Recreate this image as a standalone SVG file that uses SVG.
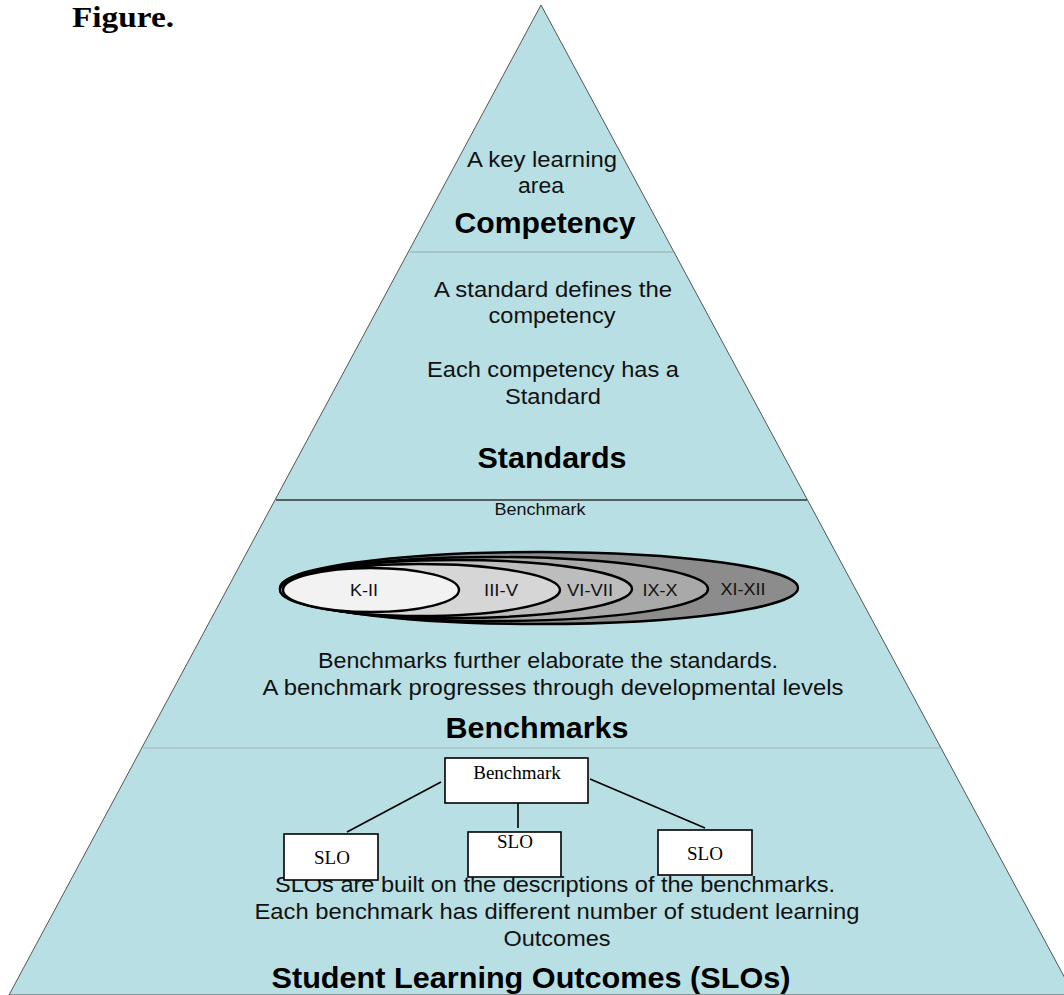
<svg xmlns="http://www.w3.org/2000/svg" width="1064" height="995" viewBox="0 0 1064 995">
<style>
.body{font-family:"Liberation Sans",Arial,sans-serif;font-size:22px;fill:#111;text-anchor:middle}
.head{font-family:"Liberation Sans",Arial,sans-serif;font-size:30px;font-weight:bold;fill:#000;text-anchor:middle}
.lvl{font-family:"Liberation Sans",Arial,sans-serif;font-size:17px;fill:#111;text-anchor:middle}
.box{fill:#fff;stroke:#000;stroke-width:1.6}
.boxt{font-family:"Liberation Serif","Times New Roman",serif;font-size:19px;fill:#000;text-anchor:middle}
.ell{stroke:#000;stroke-width:2.4}
.conn{stroke:#000;stroke-width:1.6;fill:none}
</style>
<rect width="1064" height="995" fill="#fff"/>
<text x="72" y="27" font-family="Liberation Serif,'Times New Roman',serif" font-size="29" font-weight="bold" fill="#000" textLength="102" lengthAdjust="spacingAndGlyphs">Figure.</text>
<g id="pyramid">
<polygon points="541,5 1074,995 9,995" fill="#b8dfe3" stroke="#555" stroke-width="1"/>
<line x1="410" y1="252" x2="673" y2="252" stroke="#8fa9ac" stroke-width="1.2"/>
<line x1="276" y1="500" x2="807" y2="500" stroke="#333" stroke-width="1.6"/>
<line x1="143" y1="748" x2="940" y2="748" stroke="#9db7ba" stroke-width="1.2"/>
</g>
<g id="competency">
<text class="body" x="542" y="167" textLength="150" lengthAdjust="spacingAndGlyphs">A key learning</text>
<text class="body" x="541" y="193" textLength="46" lengthAdjust="spacingAndGlyphs">area</text>
<text class="head" x="545" y="233" textLength="181" lengthAdjust="spacingAndGlyphs">Competency</text>
</g>
<g id="standards">
<text class="body" x="553" y="297" textLength="238" lengthAdjust="spacingAndGlyphs">A standard defines the</text>
<text class="body" x="552" y="323" textLength="127" lengthAdjust="spacingAndGlyphs">competency</text>
<text class="body" x="553" y="377" textLength="252" lengthAdjust="spacingAndGlyphs">Each competency has a</text>
<text class="body" x="553" y="404" textLength="96" lengthAdjust="spacingAndGlyphs">Standard</text>
<text class="head" x="552" y="468" textLength="149" lengthAdjust="spacingAndGlyphs">Standards</text>
</g>
<g id="benchmarks">
<text class="lvl" x="540" y="515" font-size="16" textLength="91" lengthAdjust="spacingAndGlyphs">Benchmark</text>
<ellipse class="ell" cx="539" cy="588" rx="259" ry="36" fill="#8c8c8c"/>
<ellipse class="ell" cx="494" cy="589" rx="214" ry="32" fill="#a9a9a9"/>
<ellipse class="ell" cx="456" cy="589" rx="176" ry="29" fill="#bdbdbd"/>
<ellipse class="ell" cx="420" cy="590" rx="140" ry="26" fill="#d6d6d6"/>
<ellipse class="ell" cx="371" cy="590" rx="88" ry="22" fill="#f2f2f2"/>
<text class="lvl" x="364" y="596" textLength="28" lengthAdjust="spacingAndGlyphs">K-II</text>
<text class="lvl" x="501" y="596" textLength="34" lengthAdjust="spacingAndGlyphs">III-V</text>
<text class="lvl" x="590" y="596" textLength="46" lengthAdjust="spacingAndGlyphs">VI-VII</text>
<text class="lvl" x="660" y="596" textLength="35" lengthAdjust="spacingAndGlyphs">IX-X</text>
<text class="lvl" x="743" y="595" textLength="45" lengthAdjust="spacingAndGlyphs">XI-XII</text>
<text class="body" x="548" y="668" textLength="460" lengthAdjust="spacingAndGlyphs">Benchmarks further elaborate the standards.</text>
<text class="body" x="553" y="695" textLength="581" lengthAdjust="spacingAndGlyphs">A benchmark progresses through developmental levels</text>
<text class="head" x="537" y="738" textLength="183" lengthAdjust="spacingAndGlyphs">Benchmarks</text>
</g>
<g id="slo-text">
<text class="body" x="555" y="892" textLength="560" lengthAdjust="spacingAndGlyphs">SLOs are built on the descriptions of the benchmarks.</text>
<text class="body" x="557" y="919" textLength="605" lengthAdjust="spacingAndGlyphs">Each benchmark has different number of student learning</text>
<text class="body" x="557" y="946" textLength="107" lengthAdjust="spacingAndGlyphs">Outcomes</text>
<text class="head" x="531" y="988" textLength="519" lengthAdjust="spacingAndGlyphs">Student Learning Outcomes (SLOs)</text>
</g>
<g id="connectors">
<line class="conn" x1="441" y1="782" x2="347" y2="832"/>
<line class="conn" x1="518" y1="803" x2="518" y2="828"/>
<line class="conn" x1="590" y1="779" x2="705" y2="828"/>
</g>
<g id="node-benchmark">
<rect class="box" x="445" y="758" width="143" height="45"/>
<text class="boxt" x="517" y="779">Benchmark</text>
</g>
<g id="node-slo1">
<rect class="box" x="284" y="834" width="94" height="46"/>
<text class="boxt" x="332" y="864">SLO</text>
</g>
<g id="node-slo2">
<rect class="box" x="468" y="832" width="93" height="45"/>
<text class="boxt" x="515" y="848">SLO</text>
</g>
<g id="node-slo3">
<rect class="box" x="658" y="830" width="94" height="45"/>
<text class="boxt" x="705" y="860">SLO</text>
</g>
</svg>
